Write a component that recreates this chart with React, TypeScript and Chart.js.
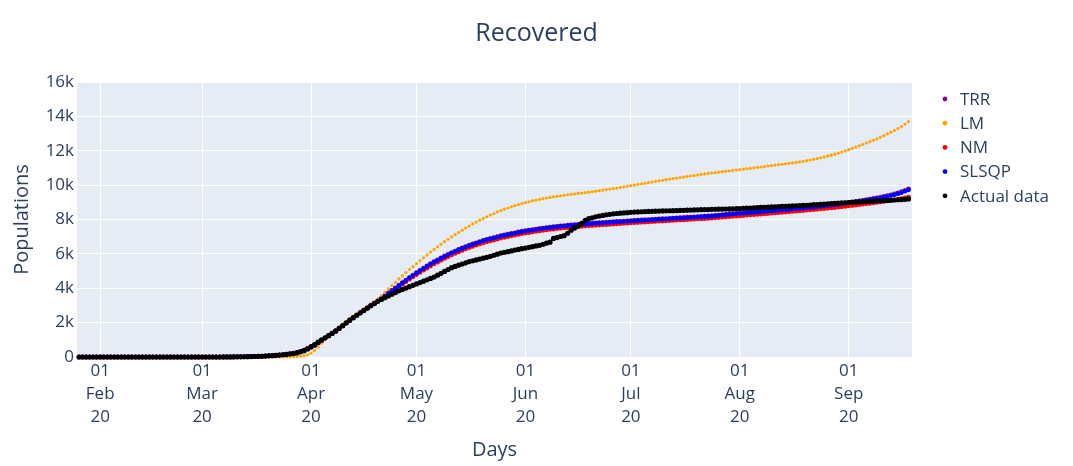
import React, { useEffect, useRef } from "react";
import { Chart, registerables } from "chart.js";

Chart.register(...registerables);

// Day numbers are counted from 2020-01-22 (day 0); series start on day 4 (26 Jan 2020)
const START_DAY = 4;
const X_MIN = 3.4;
const X_MAX = 241;

const MONTH_TICK_DAYS = [10, 39, 70, 100, 131, 161, 192, 223];
const MONTH_TICK_LABELS = [
  ["01", "Feb", "20"],
  ["01", "Mar", "20"],
  ["01", "Apr", "20"],
  ["01", "May", "20"],
  ["01", "Jun", "20"],
  ["01", "Jul", "20"],
  ["01", "Aug", "20"],
  ["01", "Sep", "20"],
];

const Y_MAX = 16000;
const Y_STEP = 2000;

const SERIES_NAMES = ["TRR", "LM", "NM", "SLSQP", "Actual data"];
const SERIES_COLORS = ["#8b0a8b", "#ffa500", "#ff0000", "#0000ff", "#000000"];

const TRR = [
  0, 0, 0, 0, 0, 0,
  0, 0, 0, 0, 0, 0, 0, 0, 0, 0,
  0, 0, 0, 0, 0, 0, 0, 0, 0, 0,
  0, 0, 0, 0, 0, 0, 0, 0, 0, 0,
  0, 1, 1, 2, 2,
  3, 4, 6, 8, 10, 13, 17, 21, 26, 32,
  39, 47, 57, 68, 81, 96, 114, 134, 158, 185,
  216, 260, 320, 395, 480, 575, 690, 820, 960, 1100,
  1240, 1380, 1520, 1670, 1820, 1980, 2130, 2280, 2430, 2570,
  2710, 2850, 2990, 3120, 3260, 3400, 3560, 3720, 3870, 4020,
  4170, 4320, 4470, 4620, 4760, 4900, 5030, 5160, 5290, 5420,
  5540, 5650, 5760, 5870, 5970, 6070, 6160, 6250, 6340, 6420,
  6500, 6570, 6640, 6710, 6780, 6840, 6890, 6940, 6990, 7050,
  7100, 7140, 7180, 7220, 7270, 7310, 7340, 7370, 7405, 7440,
  7470, 7495, 7520, 7550, 7575, 7600, 7620, 7640, 7660, 7680,
  7700, 7715, 7730, 7750, 7765, 7780, 7795, 7810, 7820, 7835,
  7850, 7865, 7880, 7890, 7905, 7920, 7930, 7945, 7955, 7970,
  7980, 7990, 8005, 8015, 8030, 8040, 8050, 8065, 8075, 8090,
  8100, 8110, 8125, 8135, 8150, 8160, 8170, 8185, 8200, 8215,
  8230, 8250, 8270, 8290, 8315, 8340, 8355, 8370, 8385, 8405,
  8420, 8435, 8450, 8470, 8485, 8500, 8520, 8535, 8555, 8570,
  8590, 8605, 8625, 8645, 8660, 8680, 8700, 8720, 8740, 8760,
  8785, 8805, 8830, 8850, 8875, 8900, 8930, 8960, 8990, 9020,
  9050, 9080, 9110, 9145, 9180, 9215, 9255, 9295, 9340, 9385,
  9430, 9485, 9545, 9610, 9690, 9780,
];

const LM = [
  0, 0, 0, 0, 0, 0,
  0, 0, 0, 0, 0, 0, 0, 0, 0, 0,
  0, 0, 0, 0, 0, 0, 0, 0, 0, 0,
  0, 0, 0, 0, 0, 0, 0, 0, 0, 0,
  0, 0, 0, 0, 0,
  0, 0, 0, 0, 0, 0, 0, 0, 0, 0,
  0, 0, 0, 0, 1, 1, 2, 3, 5, 8,
  14, 25, 45, 80, 130, 220, 380, 580, 800, 1010,
  1210, 1400, 1580, 1750, 1920, 2080, 2230, 2380, 2530, 2670,
  2810, 2950, 3090, 3230, 3380, 3560, 3760, 3960, 4160, 4350,
  4540, 4730, 4910, 5090, 5260, 5430, 5600, 5770, 5940, 6100,
  6260, 6410, 6560, 6710, 6850, 6990, 7120, 7250, 7380, 7500,
  7620, 7740, 7850, 7960, 8060, 8160, 8260, 8350, 8440, 8520,
  8600, 8670, 8740, 8810, 8870, 8930, 8980, 9030, 9080, 9125,
  9170, 9210, 9250, 9285, 9320, 9350, 9380, 9410, 9440, 9465,
  9490, 9515, 9540, 9565, 9590, 9620, 9650, 9680, 9710, 9740,
  9770, 9800, 9830, 9865, 9900, 9935, 9970, 10005, 10040, 10075,
  10110, 10145, 10180, 10215, 10250, 10285, 10320, 10350, 10380, 10410,
  10440, 10470, 10500, 10530, 10560, 10590, 10620, 10650, 10680, 10705,
  10730, 10755, 10780, 10805, 10830, 10855, 10880, 10905, 10930, 10955,
  10980, 11005, 11030, 11055, 11080, 11115, 11140, 11165, 11190, 11215,
  11240, 11265, 11290, 11320, 11350, 11385, 11420, 11460, 11500, 11545,
  11590, 11640, 11690, 11745, 11800, 11860, 11925, 11995, 12065, 12140,
  12215, 12290, 12370, 12450, 12530, 12610, 12695, 12785, 12880, 12980,
  13080, 13185, 13295, 13410, 13550, 13700,
];

const NM = [
  0, 0, 0, 0, 0, 0,
  0, 0, 0, 0, 0, 0, 0, 0, 0, 0,
  0, 0, 0, 0, 0, 0, 0, 0, 0, 0,
  0, 0, 0, 0, 0, 0, 0, 0, 0, 0,
  0, 1, 1, 2, 2,
  3, 4, 6, 8, 10, 13, 17, 21, 26, 32,
  39, 47, 57, 68, 81, 96, 114, 134, 158, 185,
  216, 260, 320, 395, 480, 575, 690, 820, 960, 1100,
  1240, 1380, 1520, 1670, 1820, 1980, 2130, 2280, 2430, 2570,
  2710, 2850, 2990, 3110, 3240, 3360, 3510, 3660, 3810, 3960,
  4100, 4240, 4380, 4520, 4660, 4790, 4920, 5050, 5170, 5290,
  5410, 5520, 5630, 5730, 5830, 5930, 6020, 6110, 6200, 6280,
  6360, 6430, 6500, 6570, 6640, 6700, 6750, 6800, 6850, 6910,
  6960, 7000, 7040, 7080, 7130, 7170, 7200, 7235, 7270, 7305,
  7335, 7360, 7385, 7415, 7440, 7465, 7485, 7505, 7525, 7545,
  7565, 7580, 7595, 7615, 7630, 7645, 7660, 7675, 7685, 7700,
  7715, 7730, 7745, 7755, 7770, 7785, 7795, 7810, 7820, 7835,
  7845, 7855, 7870, 7880, 7895, 7905, 7915, 7930, 7940, 7955,
  7965, 7975, 7990, 8000, 8015, 8025, 8035, 8050, 8065, 8080,
  8095, 8110, 8125, 8140, 8160, 8180, 8195, 8210, 8225, 8245,
  8260, 8275, 8290, 8310, 8325, 8340, 8360, 8375, 8395, 8410,
  8430, 8445, 8465, 8480, 8500, 8515, 8535, 8550, 8570, 8590,
  8610, 8630, 8650, 8670, 8690, 8710, 8735, 8760, 8785, 8810,
  8835, 8860, 8885, 8910, 8935, 8960, 8990, 9020, 9050, 9080,
  9110, 9145, 9180, 9220, 9260, 9310,
];

const SLSQP = [
  0, 0, 0, 0, 0, 0,
  0, 0, 0, 0, 0, 0, 0, 0, 0, 0,
  0, 0, 0, 0, 0, 0, 0, 0, 0, 0,
  0, 0, 0, 0, 0, 0, 0, 0, 0, 0,
  0, 1, 1, 2, 2,
  3, 4, 6, 8, 10, 13, 17, 21, 26, 32,
  39, 47, 57, 68, 81, 96, 114, 134, 158, 185,
  216, 260, 320, 395, 480, 575, 690, 820, 960, 1100,
  1240, 1380, 1520, 1670, 1820, 1980, 2130, 2280, 2430, 2570,
  2710, 2850, 2990, 3120, 3250, 3380, 3540, 3700, 3850, 4000,
  4150, 4300, 4450, 4600, 4740, 4880, 5010, 5140, 5270, 5400,
  5520, 5630, 5740, 5850, 5950, 6050, 6140, 6230, 6320, 6400,
  6480, 6550, 6620, 6690, 6760, 6820, 6870, 6920, 6970, 7030,
  7080, 7120, 7160, 7200, 7250, 7290, 7320, 7350, 7385, 7420,
  7450, 7475, 7500, 7530, 7555, 7580, 7600, 7620, 7640, 7660,
  7680, 7695, 7710, 7730, 7745, 7760, 7775, 7790, 7800, 7815,
  7830, 7845, 7860, 7870, 7885, 7900, 7910, 7925, 7935, 7950,
  7960, 7970, 7985, 7995, 8010, 8020, 8030, 8045, 8055, 8070,
  8080, 8090, 8105, 8115, 8130, 8140, 8150, 8165, 8180, 8195,
  8210, 8230, 8250, 8270, 8295, 8320, 8335, 8350, 8365, 8385,
  8400, 8415, 8430, 8450, 8465, 8480, 8500, 8515, 8535, 8550,
  8570, 8585, 8605, 8625, 8640, 8660, 8680, 8700, 8720, 8740,
  8765, 8785, 8810, 8830, 8855, 8880, 8910, 8940, 8970, 9000,
  9030, 9060, 9090, 9120, 9150, 9180, 9220, 9260, 9300, 9345,
  9390, 9440, 9500, 9560, 9640, 9720,
];

const ACTUAL = [
  0, 0, 0, 0, 0, 0,
  0, 0, 0, 0, 0, 0, 0, 0, 0, 0,
  0, 0, 0, 0, 0, 0, 0, 0, 0, 0,
  0, 0, 0, 0, 0, 0, 0, 0, 0, 0,
  0, 0, 0, 0, 0,
  2, 3, 5, 7, 9, 12, 15, 19, 24, 30,
  37, 45, 55, 66, 79, 94, 111, 130, 152, 176,
  203, 240, 300, 370, 470, 600, 720, 860, 1000, 1120,
  1240, 1370, 1500, 1660, 1820, 1990, 2150, 2290, 2430, 2570,
  2700, 2840, 2980, 3110, 3240, 3350, 3450, 3550, 3650, 3750,
  3850, 3930, 4010, 4090, 4170, 4250, 4330, 4410, 4490, 4570,
  4650, 4760, 4870, 4980, 5090, 5200, 5270, 5340, 5410, 5480,
  5550, 5600, 5650, 5700, 5750, 5800, 5860, 5920, 5980, 6050,
  6090, 6130, 6170, 6220, 6260, 6300, 6340, 6380, 6420, 6460,
  6500, 6560, 6620, 6680, 6900, 6950, 7010, 7060, 7200, 7380,
  7500, 7620, 7780, 7950, 8050, 8100, 8160, 8200, 8240, 8270,
  8300, 8330, 8350, 8370, 8385, 8400, 8415, 8430, 8440, 8450,
  8460, 8470, 8475, 8485, 8490, 8500, 8505, 8510, 8515, 8520,
  8530, 8535, 8545, 8550, 8560, 8565, 8570, 8575, 8580, 8590,
  8595, 8600, 8605, 8610, 8615, 8620, 8630, 8640, 8650, 8660,
  8670, 8680, 8690, 8700, 8710, 8720, 8730, 8740, 8750, 8760,
  8770, 8780, 8790, 8800, 8810, 8820, 8830, 8845, 8860, 8870,
  8885, 8900, 8910, 8925, 8940, 8950, 8965, 8975, 8990, 9000,
  9010, 9020, 9035, 9045, 9055, 9070, 9080, 9090, 9100, 9110,
  9120, 9135, 9150, 9160, 9175, 9200,
];

const SERIES_VALUES = [TRR, LM, NM, SLSQP, ACTUAL];
const POINT_RADII = [2.5, 1.6, 2.3, 2.3, 2.6];

const TEXT_COLOR = "#2a3f5f";
const FONT_FAMILY = "'Open Sans', 'DejaVu Sans', sans-serif";

const plotBackground = {
  id: "plotBackground",
  beforeDraw(chart: any) {
    const { ctx, chartArea } = chart;
    if (!chartArea) return;
    ctx.save();
    ctx.fillStyle = "#e5ecf6";
    ctx.fillRect(chartArea.left, chartArea.top, chartArea.right - chartArea.left, chartArea.bottom - chartArea.top);
    ctx.restore();
  },
};

const sideLegend = {
  id: "sideLegend",
  afterDraw(chart: any) {
    const { ctx, chartArea } = chart;
    const x0 = chartArea.right + 33;
    const y0 = 99;
    const step = 24.2;
    ctx.save();
    ctx.font = `17px ${FONT_FAMILY}`;
    ctx.textBaseline = "middle";
    ctx.textAlign = "left";
    chart.data.datasets.forEach((ds: any, i: number) => {
      const y = y0 + i * step;
      ctx.beginPath();
      ctx.fillStyle = ds.backgroundColor;
      ctx.arc(x0, y, 2.4, 0, Math.PI * 2);
      ctx.fill();
      ctx.fillStyle = TEXT_COLOR;
      ctx.fillText(ds.label, x0 + 15, y + 1);
    });
    ctx.restore();
  },
};

export default function App() {
  const canvasRef = useRef<HTMLCanvasElement | null>(null);

  useEffect(() => {
    if (!canvasRef.current) return;
    const datasets = SERIES_NAMES.map((name, i) => ({
      label: name,
      data: SERIES_VALUES[i].map((v, k) => ({ x: START_DAY + k, y: v })),
      showLine: false,
      pointRadius: POINT_RADII[i],
      pointHoverRadius: POINT_RADII[i],
      pointBorderWidth: 0,
      backgroundColor: SERIES_COLORS[i],
      borderColor: SERIES_COLORS[i],
      order: SERIES_NAMES.length - i,
      clip: false as any,
    }));

    const chart = new Chart(canvasRef.current, {
      type: "scatter",
      data: { datasets },
      plugins: [plotBackground, sideLegend],
      options: {
        animation: false,
        responsive: true,
        maintainAspectRatio: false,
        events: [],
        layout: { padding: { left: 0, right: 0, top: 0, bottom: 0 } },
        plugins: {
          legend: { display: false },
          tooltip: { enabled: false },
          title: {
            display: true,
            text: "Recovered",
            color: TEXT_COLOR,
            font: { family: FONT_FAMILY, size: 25, weight: "normal", lineHeight: 1.2 },
            padding: { top: 19, bottom: 33 },
          },
        },
        scales: {
          x: {
            type: "linear",
            min: X_MIN,
            max: X_MAX,
            afterFit(scale: any) {
              scale.height = 109;
            },
            afterBuildTicks(scale: any) {
              scale.ticks = MONTH_TICK_DAYS.map((d) => ({ value: d }));
            },
            ticks: {
              autoSkip: false,
              maxRotation: 0,
              minRotation: 0,
              padding: 3,
              color: TEXT_COLOR,
              font: { family: FONT_FAMILY, size: 17, lineHeight: 1.35 },
              callback: (value: any) => {
                const idx = MONTH_TICK_DAYS.indexOf(Number(value));
                return idx >= 0 ? MONTH_TICK_LABELS[idx] : "";
              },
            },
            grid: { color: "#ffffff", lineWidth: 1, drawTicks: false },
            border: { display: false },
            title: {
              display: true,
              text: "Days",
              color: TEXT_COLOR,
              font: { family: FONT_FAMILY, size: 20, lineHeight: 1.2 },
              padding: { top: 0, bottom: 4 },
            },
          },
          y: {
            min: 0,
            max: Y_MAX,
            afterFit(scale: any) {
              scale.width = 77;
            },
            ticks: {
              stepSize: Y_STEP,
              padding: 3,
              color: TEXT_COLOR,
              font: { family: FONT_FAMILY, size: 17 },
              callback: (value: any) => (Number(value) === 0 ? "0" : `${Number(value) / 1000}k`),
            },
            grid: { color: "#ffffff", lineWidth: 1, drawTicks: false },
            border: { display: false },
            title: {
              display: true,
              text: "Populations",
              color: TEXT_COLOR,
              font: { family: FONT_FAMILY, size: 20, lineHeight: 1.2 },
              padding: { top: 10, bottom: 0 },
            },
          },
          legendSpace: {
            type: "linear",
            axis: "y",
            position: "right",
            display: true,
            afterFit(scale: any) {
              scale.width = 161;
            },
            ticks: { display: false },
            grid: { display: false, drawTicks: false },
            border: { display: false },
          },
        },
      },
    } as any);

    return () => chart.destroy();
  }, []);

  return (
    <div style={{ position: "absolute", left: 0, top: 0, width: 1073, height: 466, background: "#ffffff" }}>
      <canvas ref={canvasRef} />
    </div>
  );
}
